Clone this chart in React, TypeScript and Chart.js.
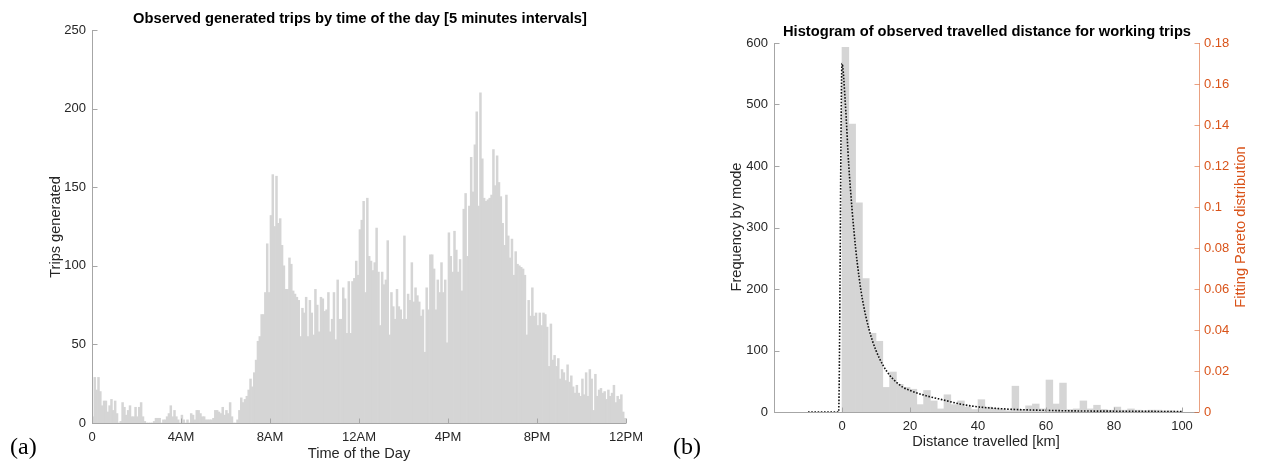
import React, { useEffect, useRef } from 'react';
import { Chart, registerables } from 'chart.js';

Chart.register(...registerables);

// ---------- Panel (a): trips per 5-minute slot (288 slots, 00:00 -> 24:00) ----------
const TRIPS_PER_5MIN: number[] = [
  // 0h
  4, 29, 21, 29, 20, 11, 14, 14, 7, 11, 15, 8,
  // 1h
  14, 6, 0, 1, 13, 10, 5, 8, 11, 4, 4, 10,
  // 2h
  4, 10, 13, 4, 1, 0, 0, 0, 0, 1, 3, 3,
  // 3h
  3, 0, 2, 2, 4, 6, 11, 4, 8, 4, 2, 0,
  // 4h
  5, 2, 0, 2, 0, 6, 5, 2, 8, 8, 6, 4,
  // 5h
  4, 2, 2, 2, 2, 3, 8, 8, 7, 6, 10, 5,
  // 6h
  8, 6, 13, 4, 0, 0, 2, 8, 16, 13, 15, 17,
  // 7h
  21, 28, 23, 32, 40, 52, 55, 69, 69, 83, 114, 83,
  // 8h
  132, 158, 125, 157, 127, 130, 113, 100, 85, 85, 105, 101,
  // 9h
  84, 82, 80, 78, 55, 73, 70, 80, 55, 78, 70, 56,
  // 10h
  85, 75, 58, 80, 79, 71, 72, 83, 58, 66, 83, 53,
  // 11h
  91, 66, 66, 86, 79, 57, 90, 57, 90, 92, 103, 94,
  // 12h
  123, 129, 141, 83, 143, 106, 103, 97, 102, 124, 96, 62,
  // 13h
  96, 88, 91, 116, 56, 83, 74, 66, 85, 74, 72, 66,
  // 14h
  119, 66, 82, 78, 102, 77, 86, 81, 77, 68, 72, 45,
  // 15h
  86, 72, 107, 107, 98, 72, 91, 83, 102, 83, 91, 51,
  // 16h
  121, 106, 96, 122, 110, 96, 104, 84, 136, 146, 106, 138,
  // 17h
  169, 147, 177, 198, 138, 210, 168, 143, 141, 142, 143, 145,
  // 18h
  174, 151, 170, 153, 144, 127, 113, 145, 119, 105, 117, 94,
  // 19h
  109, 101, 100, 99, 98, 94, 56, 78, 68, 86, 68, 70,
  // 20h
  62, 70, 62, 70, 69, 61, 36, 63, 40, 43, 36, 41,
  // 21h
  28, 34, 32, 27, 37, 26, 30, 23, 19, 24, 19, 17,
  // 22h
  28, 18, 32, 17, 34, 28, 8, 31, 17, 21, 22, 19,
  // 23h
  20, 15, 21, 17, 19, 24, 13, 17, 15, 18, 7, 3,
];
const TIME_TICK_SLOTS: number[] = [0, 48, 96, 144, 192, 240, 288];
const TIME_TICK_LABELS: string[] = ['0', '4AM', '8AM', '12AM', '4PM', '8PM', '12PM'];
const TRIPS_TICKS: number[] = [0, 50, 100, 150, 200, 250];

// ---------- Panel (b): histogram of distance (2 km bins) + Pareto fit ----------
const DIST_BIN_CENTERS: number[] = [
  1, 3, 5, 7, 9, 11, 13, 15, 17, 19, 21, 23, 25, 27, 29, 31, 33, 35, 37, 39,
  41, 43, 45, 47, 49, 51, 53, 55, 57, 59, 61, 63, 65, 67, 69, 71, 73, 75, 77, 79,
  81, 83, 85, 87, 89, 91, 93, 95, 97, 99,
];
const DIST_FREQ: number[] = [
  593, 468, 340, 217, 128, 115, 40, 65, 45, 40, 37, 12, 35, 18, 5, 28, 12, 18, 8, 4,
  20, 8, 6, 5, 2, 42, 4, 10, 13, 5, 52, 13, 47, 4, 5, 18, 5, 11, 4, 3,
  8, 3, 5, 3, 2, 3, 3, 2, 2, 1,
];
const PARETO_X: number[] = [
  -10, -1, 0, 1, 2, 3, 4, 5, 6, 8, 10, 12, 14, 16, 18, 20, 25, 30, 35, 40, 45, 50, 60, 70, 80, 90, 100,
];
const PARETO_Y: number[] = [
  0, 0, 0.17, 0.15, 0.12, 0.098, 0.08, 0.066, 0.055, 0.04, 0.03, 0.023, 0.018, 0.0145, 0.012,
  0.0105, 0.0078, 0.0058, 0.0038, 0.0025, 0.0018, 0.0013, 0.0008, 0.0005, 0.0004, 0.0003, 0.0002,
];
const DIST_TICKS: number[] = [0, 20, 40, 60, 80, 100];
const FREQ_TICKS: number[] = [0, 100, 200, 300, 400, 500, 600];
const PARETO_TICKS: number[] = [0, 0.02, 0.04, 0.06, 0.08, 0.1, 0.12, 0.14, 0.16, 0.18];

// ---------- styles ----------
const SANS = '"Liberation Sans", Arial, Helvetica, sans-serif';
const BAR_GRAY = '#d5d5d5';
const AXIS_GRAY = '#a6a6a6';
const TEXT_DARK = '#262626';
const ORANGE = '#d95319';
const ORANGE_AXIS = 'rgba(217,83,25,0.55)';
const TITLE_FONT = `bold 14.7px ${SANS}`;
const LABEL_FONT = `14.6px ${SANS}`;
const SERIF_FONT = `24px "Liberation Serif", "Times New Roman", serif`;

type AxisDecor = { scaleId: string; side: 'left' | 'right' | 'bottom'; color: string };
type TextDecor = {
  text: string; x: number; y: number; font: string; color: string; rotate?: number; align?: CanvasTextAlign;
};

const decorPlugin = {
  id: 'decor',
  afterDraw(chart: any, _args: any, opts: any) {
    const ctx: CanvasRenderingContext2D = chart.ctx;
    const a = chart.chartArea;
    ctx.save();
    (opts.axes || []).forEach((ax: AxisDecor) => {
      const scale = chart.scales[ax.scaleId];
      ctx.strokeStyle = ax.color;
      ctx.lineWidth = 1;
      ctx.beginPath();
      if (ax.side === 'left' || ax.side === 'right') {
        const x = Math.round(ax.side === 'left' ? a.left : a.right) + 0.5;
        ctx.moveTo(x, a.top);
        ctx.lineTo(x, a.bottom);
        scale.ticks.forEach((t: any) => {
          const y = Math.round(scale.getPixelForValue(t.value)) + 0.5;
          ctx.moveTo(x, y);
          ctx.lineTo(ax.side === 'left' ? x + 5 : x - 5, y);
        });
      } else {
        const y = Math.round(a.bottom) + 0.5;
        ctx.moveTo(a.left, y);
        ctx.lineTo(a.right, y);
        scale.ticks.forEach((t: any) => {
          const x = Math.round(scale.getPixelForValue(t.value)) + 0.5;
          ctx.moveTo(x, y);
          ctx.lineTo(x, y - 5);
        });
      }
      ctx.stroke();
    });
    (opts.texts || []).forEach((t: TextDecor) => {
      ctx.save();
      ctx.translate(t.x, t.y);
      if (t.rotate) ctx.rotate(t.rotate);
      ctx.font = t.font;
      ctx.fillStyle = t.color;
      ctx.textAlign = t.align || 'center';
      ctx.textBaseline = 'middle';
      ctx.fillText(t.text, 0, 0);
      ctx.restore();
    });
    ctx.restore();
  },
};

function leftConfig(): any {
  return {
    type: 'bar',
    data: {
      datasets: [
        {
          data: TRIPS_PER_5MIN.map((v, i) => ({ x: i + 0.5, y: v })),
          backgroundColor: BAR_GRAY,
          borderWidth: 0,
          barPercentage: 1,
          categoryPercentage: 1,
        },
      ],
    },
    options: {
      animation: false,
      responsive: false,
      maintainAspectRatio: false,
      events: [],
      layout: { padding: { left: 0, right: 24, top: 30, bottom: 0 } },
      plugins: {
        legend: { display: false },
        tooltip: { enabled: false },
        title: { display: false },
        decor: {
          axes: [
            { scaleId: 'y', side: 'left', color: AXIS_GRAY },
            { scaleId: 'x', side: 'bottom', color: AXIS_GRAY },
          ],
          texts: [
            { text: 'Observed generated trips by time of the day [5 minutes intervals]', x: 360, y: 19, font: TITLE_FONT, color: '#000' },
            { text: 'Trips generated', x: 56, y: 227, font: LABEL_FONT, color: TEXT_DARK, rotate: -Math.PI / 2 },
            { text: 'Time of the Day', x: 359, y: 454, font: LABEL_FONT, color: TEXT_DARK },
            { text: '(a)', x: 10, y: 448, font: SERIF_FONT, color: '#000', align: 'left' },
          ],
        },
      },
      scales: {
        x: {
          type: 'linear',
          min: 0,
          max: 288,
          offset: false,
          afterBuildTicks: (axis: any) => {
            axis.ticks = TIME_TICK_SLOTS.map((v) => ({ value: v }));
          },
          afterFit: (s: any) => {
            s.height = 43;
          },
          ticks: {
            autoSkip: false,
            maxRotation: 0,
            padding: 7,
            color: TEXT_DARK,
            font: { family: SANS, size: 13 },
            callback: (_v: any, i: number) => TIME_TICK_LABELS[i],
          },
          grid: { display: false, drawTicks: false },
          border: { display: false },
        },
        y: {
          min: 0,
          max: 250,
          afterBuildTicks: (axis: any) => {
            axis.ticks = TRIPS_TICKS.map((v) => ({ value: v }));
          },
          afterFit: (s: any) => {
            s.width = 92;
          },
          ticks: {
            padding: 6,
            color: TEXT_DARK,
            font: { family: SANS, size: 13 },
            callback: (v: any) => String(v),
          },
          grid: { display: false, drawTicks: false },
          border: { display: false },
        },
      },
    },
    plugins: [decorPlugin],
  };
}

function rightConfig(): any {
  return {
    type: 'bar',
    data: {
      datasets: [
        {
          type: 'line',
          data: PARETO_X.map((x, i) => ({ x, y: PARETO_Y[i] })),
          yAxisID: 'y2',
          borderColor: '#111',
          borderWidth: 1.6,
          borderDash: [1.6, 1.6],
          pointRadius: 0,
          fill: false,
          cubicInterpolationMode: 'monotone',
          order: 0,
        },
        {
          type: 'bar',
          data: DIST_BIN_CENTERS.map((x, i) => ({ x, y: DIST_FREQ[i] })),
          yAxisID: 'y',
          backgroundColor: BAR_GRAY,
          borderWidth: 0,
          barPercentage: 1,
          categoryPercentage: 1,
          order: 1,
        },
      ],
    },
    options: {
      animation: false,
      responsive: false,
      maintainAspectRatio: false,
      events: [],
      layout: { padding: { left: 0, right: 0, top: 43, bottom: 0 } },
      plugins: {
        legend: { display: false },
        tooltip: { enabled: false },
        title: { display: false },
        decor: {
          axes: [
            { scaleId: 'y', side: 'left', color: AXIS_GRAY },
            { scaleId: 'x', side: 'bottom', color: AXIS_GRAY },
            { scaleId: 'y2', side: 'right', color: ORANGE_AXIS },
          ],
          texts: [
            { text: 'Histogram of observed travelled distance for working trips', x: 337, y: 32, font: TITLE_FONT, color: '#000' },
            { text: 'Frequency by mode', x: 87, y: 227, font: LABEL_FONT, color: TEXT_DARK, rotate: -Math.PI / 2 },
            { text: 'Fitting Pareto distribution', x: 591, y: 227, font: LABEL_FONT, color: ORANGE, rotate: -Math.PI / 2 },
            { text: 'Distance travelled [km]', x: 336, y: 442, font: LABEL_FONT, color: TEXT_DARK },
            { text: '(b)', x: 23, y: 448, font: SERIF_FONT, color: '#000', align: 'left' },
          ],
        },
      },
      scales: {
        x: {
          type: 'linear',
          min: -20,
          max: 105,
          offset: false,
          afterBuildTicks: (axis: any) => {
            axis.ticks = DIST_TICKS.map((v) => ({ value: v }));
          },
          afterFit: (s: any) => {
            s.height = 54;
          },
          ticks: {
            autoSkip: false,
            maxRotation: 0,
            padding: 7,
            color: TEXT_DARK,
            font: { family: SANS, size: 13 },
            callback: (v: any) => String(v),
          },
          grid: { display: false, drawTicks: false },
          border: { display: false },
        },
        y: {
          position: 'left',
          min: 0,
          max: 600,
          afterBuildTicks: (axis: any) => {
            axis.ticks = FREQ_TICKS.map((v) => ({ value: v }));
          },
          afterFit: (s: any) => {
            s.width = 124;
          },
          ticks: {
            padding: 6,
            color: TEXT_DARK,
            font: { family: SANS, size: 13 },
            callback: (v: any) => String(v),
          },
          grid: { display: false, drawTicks: false },
          border: { display: false },
        },
        y2: {
          position: 'right',
          min: 0,
          max: 0.18,
          afterBuildTicks: (axis: any) => {
            axis.ticks = PARETO_TICKS.map((v) => ({ value: v }));
          },
          afterFit: (s: any) => {
            s.width = 64;
          },
          ticks: {
            padding: 5,
            color: ORANGE,
            font: { family: SANS, size: 13 },
            callback: (v: any) => String(+Number(v).toFixed(2)),
          },
          grid: { display: false, drawTicks: false },
          border: { display: false },
        },
      },
    },
    plugins: [decorPlugin],
  };
}

export default function App() {
  const leftRef = useRef<HTMLCanvasElement>(null);
  const rightRef = useRef<HTMLCanvasElement>(null);

  useEffect(() => {
    const c1 = new Chart(leftRef.current as HTMLCanvasElement, leftConfig());
    const c2 = new Chart(rightRef.current as HTMLCanvasElement, rightConfig());
    return () => {
      c1.destroy();
      c2.destroy();
    };
  }, []);

  return (
    <div style={{ position: 'absolute', left: 0, top: 0, width: 1263, height: 466, background: '#fff' }}>
      <canvas
        ref={leftRef}
        width={650}
        height={466}
        style={{ position: 'absolute', left: 0, top: 0, width: 650, height: 466 }}
      />
      <canvas
        ref={rightRef}
        width={613}
        height={466}
        style={{ position: 'absolute', left: 650, top: 0, width: 613, height: 466 }}
      />
    </div>
  );
}
